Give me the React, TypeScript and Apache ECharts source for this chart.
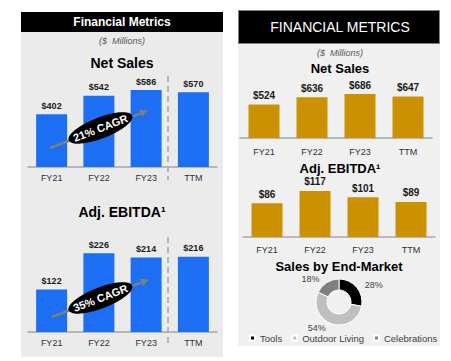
import React, { useEffect, useRef } from "react";
import * as echarts from "echarts";

const categories = ["FY21", "FY22", "FY23", "TTM"];
const leftNetSales = [402, 542, 586, 570];
const leftEbitda = [122, 226, 214, 216];
const rightNetSales = [524, 636, 686, 647];
const rightEbitda = [86, 117, 101, 89];
const marketNames = ["Tools", "Outdoor Living", "Celebrations"];
const marketShares = [28, 54, 18];
const cagrLabels = ["21% CAGR", "35% CAGR"];

const FONT = "Liberation Sans";
const BLUE = "#1C6EF2";
const GOLD = "#CC9100";
const AXIS = "#A6A6A6";

function arrow(x1: number, y1: number, x2: number, y2: number) {
  const dx = x2 - x1;
  const dy = y2 - y1;
  const len = Math.sqrt(dx * dx + dy * dy);
  const ux = dx / len;
  const uy = dy / len;
  const px = -uy;
  const py = ux;
  const hl = 8;
  const hw = 4;
  const bx = x2 - ux * hl;
  const by = y2 - uy * hl;
  return [
    {
      type: "line",
      z: 5,
      shape: { x1, y1, x2: bx, y2: by },
      style: { stroke: "#7F7F7F", lineWidth: 2.5 },
    },
    {
      type: "polygon",
      z: 5,
      shape: {
        points: [
          [x2, y2],
          [bx + px * hw, by + py * hw],
          [bx - px * hw, by - py * hw],
        ],
      },
      style: { fill: "#7F7F7F" },
    },
  ];
}

function cagr(cx: number, cy: number, text: string) {
  const rot = (21 * Math.PI) / 180;
  return [
    {
      type: "ellipse",
      z: 10,
      x: cx,
      y: cy,
      rotation: rot,
      shape: { cx: 0, cy: 0, rx: 34, ry: 10.5 },
      style: { fill: "#000" },
    },
    {
      type: "text",
      z: 11,
      x: cx,
      y: cy,
      rotation: rot,
      style: {
        text,
        fill: "#fff",
        fontSize: 11,
        fontWeight: "bold",
        fontFamily: FONT,
        textAlign: "center",
        textVerticalAlign: "middle",
      },
    },
  ];
}

function txt(x: number, y: number, text: string, size: number, opts: any = {}) {
  return {
    type: "text",
    z: 3,
    x,
    y,
    style: {
      text,
      fill: opts.fill || "#000",
      fontSize: size,
      fontWeight: opts.weight || "bold",
      fontStyle: opts.style || "normal",
      fontFamily: FONT,
      textAlign: "center",
      textVerticalAlign: "middle",
    },
  };
}

function dashed(x: number, y1: number, y2: number) {
  return {
    type: "line",
    z: 1,
    shape: { x1: x, y1, x2: x, y2 },
    style: { stroke: AXIS, lineWidth: 1.5, lineDash: [6, 4] },
  };
}

function xAxis(gridIndex: number, margin: number, size: number) {
  return {
    type: "category",
    gridIndex,
    data: categories,
    axisLine: { show: true, lineStyle: { color: AXIS, width: 1.5 } },
    axisTick: { show: false },
    axisLabel: { color: "#333", fontSize: size, margin, fontFamily: FONT },
  };
}

function yAxis(gridIndex: number, max: number) {
  return {
    type: "value",
    gridIndex,
    min: 0,
    max,
    show: false,
    splitLine: { show: false },
  };
}

function bars(idx: number, data: number[], color: string, size: number) {
  return {
    type: "bar",
    xAxisIndex: idx,
    yAxisIndex: idx,
    data,
    barWidth: 31,
    itemStyle: { color },
    label: {
      show: true,
      position: "top",
      distance: 4,
      formatter: "${c}",
      fontSize: size,
      fontWeight: "bold",
      color: "#1a1a1a",
      fontFamily: FONT,
    },
  };
}

export default function App() {
  const ref = useRef<HTMLDivElement>(null);
  useEffect(() => {
    if (!ref.current) return;
    const chart = echarts.init(ref.current, undefined, { renderer: "svg" });
    const option: any = {
      animation: false,
      textStyle: { fontFamily: FONT },
      grid: [
        { left: 28, width: 189, top: 62, height: 105 },
        { left: 28, width: 189, top: 227.5, height: 104.5 },
        { left: 240, width: 192, top: 74, height: 64 },
        { left: 243, width: 192, top: 178, height: 59 },
      ],
      xAxis: [xAxis(0, 6, 9), xAxis(1, 6, 9), xAxis(2, 9, 9), xAxis(3, 8, 9)],
      yAxis: [yAxis(0, 800), yAxis(1, 300), yAxis(2, 1000), yAxis(3, 150)],
      legend: {
        data: marketNames,
        left: 249,
        top: 333,
        width: 200,
        padding: 0,
        icon: "rect",
        itemWidth: 5,
        itemHeight: 5,
        itemGap: 9,
        textStyle: { fontSize: 9.5, color: "#404040", fontFamily: FONT },
      },
      series: [
        bars(0, leftNetSales, BLUE, 9),
        bars(1, leftEbitda, BLUE, 9),
        bars(2, rightNetSales, GOLD, 10),
        bars(3, rightEbitda, GOLD, 10),
        {
          type: "pie",
          center: [339, 302],
          radius: [12, 23],
          startAngle: 90,
          clockwise: true,
          itemStyle: { borderColor: "#fff", borderWidth: 1 },
          label: {
            show: true,
            position: "outside",
            formatter: "{c}%",
            fontSize: 9,
            color: "#404040",
            fontFamily: FONT,
          },
          labelLine: { show: false, length: 4, length2: 0 },
          data: marketNames.map((n, i) => ({
            name: n,
            value: marketShares[i],
            itemStyle: { color: ["#000000", "#BFBFBF", "#7F7F7F"][i] },
          })),
        },
      ],
      graphic: [
        {
          type: "rect",
          z: -1,
          shape: { x: 21, y: 12, width: 202, height: 345 },
          style: { fill: "#EBEBEB" },
        },
        {
          type: "rect",
          z: -1,
          shape: { x: 21, y: 12, width: 202, height: 20 },
          style: { fill: "#000" },
        },
        {
          type: "rect",
          z: -1,
          shape: { x: 238, y: 10, width: 202, height: 336 },
          style: { fill: "#F0F0F0" },
        },
        {
          type: "rect",
          z: -1,
          shape: { x: 238.5, y: 10.5, width: 201, height: 33 },
          style: { fill: "#000", stroke: "#808080", lineWidth: 1 },
        },
        txt(122, 22, "Financial Metrics", 12, { fill: "#fff" }),
        txt(122, 41, "($  Millions)", 9, { fill: "#595959", weight: "normal", style: "italic" }),
        txt(122, 63, "Net Sales", 14),
        txt(122, 212, "Adj. EBITDA¹", 14),
        txt(340, 27, "FINANCIAL METRICS", 14, { fill: "#fff", weight: "normal" }),
        txt(340, 53, "($  Millions)", 9, { fill: "#595959", weight: "normal", style: "italic" }),
        txt(340, 68, "Net Sales", 13),
        txt(340, 168, "Adj. EBITDA¹", 13),
        txt(339, 266, "Sales by End-Market", 13),
        dashed(168, 76, 180),
        dashed(168, 237, 347),
        ...arrow(50, 148, 148, 110.5),
        ...arrow(52, 317, 149, 279.5),
        ...cagr(100.5, 128, cagrLabels[0]),
        ...cagr(100.5, 298, cagrLabels[1]),
      ],
    };
    chart.setOption(option);
    return () => chart.dispose();
  }, []);
  return (
    <div
      ref={ref}
      style={{ position: "absolute", left: 0, top: 0, width: 451, height: 361 }}
    />
  );
}
